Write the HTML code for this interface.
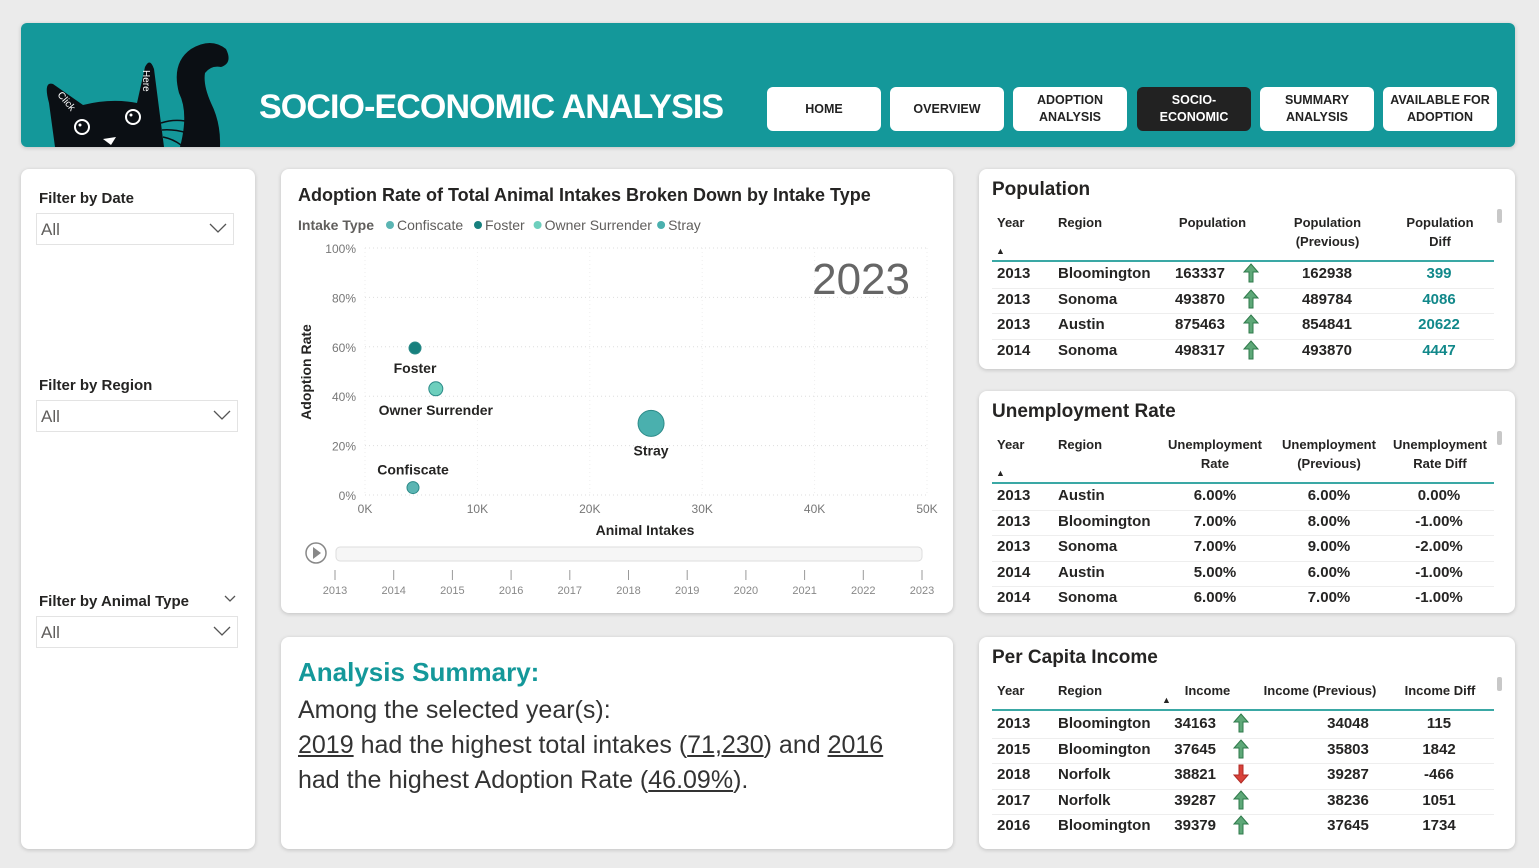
<!DOCTYPE html>
<html><head><meta charset="utf-8">
<style>
*{box-sizing:border-box;margin:0;padding:0}
body{width:1539px;height:868px;background:#ebebeb;font-family:"Liberation Sans",sans-serif;position:relative;overflow:hidden;color:#252423}
.card{position:absolute;background:#fff;border-radius:8px;box-shadow:0 1px 4px rgba(0,0,0,.18)}
.abs{position:absolute;white-space:nowrap}
.nav{position:absolute;top:87px;width:114px;height:44px;background:#fff;border-radius:6px;font-weight:bold;font-size:12.5px;display:flex;align-items:center;justify-content:center;text-align:center;line-height:17px;color:#222}
.ft{font-weight:bold;font-size:15px;color:#252423}
.dd{position:absolute;height:32px;border:1px solid #e3e3e3;font-size:17px;color:#605e5c;padding:6px 4px}
.chev{position:absolute;right:6px;top:9px;width:18px;height:10px}
.th{position:absolute;font-weight:bold;font-size:13px;text-align:center;line-height:19px}
.td{position:absolute;font-weight:bold;font-size:15px;white-space:nowrap}
.rowline{position:absolute;height:1px;background:#eee}
.tl{position:absolute;height:2px;background:#3aa8a5}
.up{position:absolute;width:18px;height:20px}
</style></head><body>
<div class="card" style="left:21px;top:23px;width:1494px;height:124px;background:#14989a;border-radius:6px;overflow:hidden">
<svg class="abs" style="left:0;top:0" width="240" height="124">
<path d="M34 124 L28 80 Q22 58 32 61 L62 82 Q90 75 116 80 L124 44 Q129 34 133 46 L143 124 Z" fill="#0b0f14"/>
<path d="M159 124 Q168 90 158 70 Q150 40 170 26 Q190 14 205 26 Q212 40 200 44 Q190 42 184 50 Q182 62 190 80 Q200 100 199 124 Z" fill="#0b0f14"/>
<circle cx="61" cy="104" r="7" fill="none" stroke="#fff" stroke-width="2"/><circle cx="112" cy="94" r="7" fill="none" stroke="#fff" stroke-width="2"/>
<circle cx="59" cy="102" r="1.5" fill="#fff"/><circle cx="110" cy="92" r="1.5" fill="#fff"/>
<path d="M82 116 l13 -2 l-5 8z" fill="#fff"/>
<path d="M140 100 Q152 96 164 98 M141 107 Q153 106 166 110 M142 114 Q152 116 160 122" stroke="#0b0f14" stroke-width="1.5" fill="none"/>
<text x="36" y="72" fill="#fff" font-size="10" transform="rotate(50 36 72)">Click</text>
<text x="122" y="47" fill="#fff" font-size="10" transform="rotate(90 122 47)">Here</text>
</svg>
<div class="abs" style="left:238px;top:65px;font-size:34px;font-weight:bold;color:#fff;letter-spacing:-0.9px">SOCIO-ECONOMIC ANALYSIS</div>
</div>
<div class="nav" style="left:767px">HOME</div>
<div class="nav" style="left:890px">OVERVIEW</div>
<div class="nav" style="left:1013px">ADOPTION<br>ANALYSIS</div>
<div class="nav" style="left:1137px;background:#222;color:#fff">SOCIO-<br>ECONOMIC</div>
<div class="nav" style="left:1260px">SUMMARY<br>ANALYSIS</div>
<div class="nav" style="left:1383px">AVAILABLE FOR<br>ADOPTION</div>

<div class="card" style="left:21px;top:169px;width:234px;height:680px">
<div class="abs ft" style="left:18px;top:21px">Filter by Date</div>
<div class="dd" style="left:15px;top:44px;width:198px">All<svg class="chev" viewBox="0 0 18 10"><path d="M1 1 L9 9 L17 1" stroke="#555" stroke-width="1.3" fill="none"/></svg></div>
<div class="abs ft" style="left:18px;top:208px">Filter by Region</div>
<div class="dd" style="left:15px;top:231px;width:202px">All<svg class="chev" viewBox="0 0 18 10"><path d="M1 1 L9 9 L17 1" stroke="#555" stroke-width="1.3" fill="none"/></svg></div>
<div class="abs ft" style="left:18px;top:424px">Filter by Animal Type</div>
<svg class="abs" style="left:203px;top:426px" width="12" height="8" viewBox="0 0 12 8"><path d="M1 1 L6 6 L11 1" stroke="#555" stroke-width="1.3" fill="none"/></svg>
<div class="dd" style="left:15px;top:447px;width:202px">All<svg class="chev" viewBox="0 0 18 10"><path d="M1 1 L9 9 L17 1" stroke="#555" stroke-width="1.3" fill="none"/></svg></div>
</div>

<div class="card" style="left:281px;top:169px;width:672px;height:444px"></div>
<svg class="abs" id="chart" style="left:0;top:0" width="1539" height="868"></svg>

<div class="card" style="left:281px;top:637px;width:672px;height:212px">
<div class="abs" style="left:17px;top:20px;font-size:26px;font-weight:bold;color:#14989a">Analysis Summary:</div>
<div class="abs" style="left:17px;top:56px;font-size:25px;line-height:35px;color:#333;white-space:normal;width:640px">Among the selected year(s):<br><u>2019</u> had the highest total intakes (<u>71,230</u>) and <u>2016</u><br>had the highest Adoption Rate (<u>46.09%</u>).</div>
</div>

<div class="card" style="left:979px;top:169px;width:536px;height:200px"></div>
<div class="card" style="left:979px;top:391px;width:536px;height:222px"></div>
<div class="card" style="left:979px;top:637px;width:536px;height:212px"></div>
<div id="tables"></div>

<script>
const categories=["Confiscate","Foster","Owner Surrender","Stray"];
const intakes=[4270,4450,6300,25450];
const rates=[3,59.5,43,29];
const sizes=[6,6,7,13];
const colors=["#5bb5b3","#17807e","#6dcfbd","#4ab0ae"];
const xTicks=[0,10000,20000,30000,40000,50000];
const xTickLabels=["0K","10K","20K","30K","40K","50K"];
const yTicks=[0,20,40,60,80,100];
const years=["2013","2014","2015","2016","2017","2018","2019","2020","2021","2022","2023"];
const NS="http://www.w3.org/2000/svg";
const svg=document.getElementById('chart');
const X=v=>365+v/50000*562, Y=v=>495-v/100*247;
function mk(t,a,txt){const e=document.createElementNS(NS,t);for(const k in a)e.setAttribute(k,a[k]);if(txt!=null)e.textContent=txt;svg.appendChild(e);return e;}
let e;
e=mk('text',{x:298,y:201,'font-size':18,'font-weight':'bold',fill:'#252423'},'Adoption Rate of Total Animal Intakes Broken Down by Intake Type');


e=mk('text',{x:298,y:230,'font-size':14,'font-weight':'bold',fill:'#605e5c'},'Intake Type');


let lx=390;
categories.forEach((c,i)=>{
  const g=mk('circle',{cx:lx,cy:225,r:4,fill:colors[i]});
  
  
  const t=mk('text',{x:lx+7,y:230,'font-size':14,fill:'#605e5c'},c);
  
  
  lx+=c.length*7.1+17;
});
yTicks.forEach(v=>{
  const l=mk('line',{x1:365,x2:927,y1:Y(v),y2:Y(v),stroke:'#ddd','stroke-dasharray':'1 3'});
  
  
  const t=mk('text',{x:356,y:Y(v)+5,'text-anchor':'end','font-size':12,fill:'#777'},v+'%');
  
  
});
xTicks.forEach((v,i)=>{
  const l=mk('line',{x1:X(v),x2:X(v),y1:248,y2:495,stroke:'#eee','stroke-dasharray':'1 3'});
  
  
  const t=mk('text',{x:X(v),y:513,'text-anchor':'middle','font-size':12,fill:'#777'},xTickLabels[i]);
  
  
});
e=mk('text',{x:645,y:535,'text-anchor':'middle','font-size':14,'font-weight':'bold',fill:'#252423'},'Animal Intakes');


e=mk('text',{x:311,y:372,'text-anchor':'middle','font-size':14,'font-weight':'bold',fill:'#252423',transform:'rotate(-90 311 372)'},'Adoption Rate');


e=mk('text',{x:910,y:294,'text-anchor':'end','font-size':44,fill:'#666'},'2023');


categories.forEach((c,i)=>{
  const cx=X(intakes[i]),cy=Y(rates[i]);
  const p=mk('circle',{cx:cx,cy:cy,r:sizes[i],fill:colors[i],stroke:'#2b8a88','stroke-width':1});
  
  
  const above=(c==='Confiscate');
  const t=mk('text',{x:cx,y:above?cy-13:cy+sizes[i]+19,'text-anchor':'middle','font-size':14,'font-weight':'bold',fill:'#252423'},c);
  
  
});
e=mk('circle',{cx:316,cy:553,r:10,fill:'#fff',stroke:'#888','stroke-width':1.5});


mk('path',{d:'M313 547 L321 553 L313 559Z',fill:'#888'});
e=mk('rect',{x:336,y:547,width:586,height:14,rx:4,fill:'#f6f6f6',stroke:'#ddd'});


years.forEach((y,i)=>{
  const x=335+i*(922-335)/(years.length-1);
  mk('line',{x1:x,x2:x,y1:570,y2:580,stroke:'#999'});
  const t=mk('text',{x:x,y:594,'text-anchor':'middle','font-size':11,fill:'#888'},y);
  
  
});

// tables
const T=document.getElementById('tables');
function add(cls,style,txt,name){const d=document.createElement('div');d.className=cls;d.style.cssText=style;d.innerHTML=txt;T.appendChild(d);return d;}
const UP='<svg width="18" height="20" viewBox="0 0 18 20"><path d="M9 1 L16 9 L11 9 L11 19 L7 19 L7 9 L2 9Z" fill="#5ea878" stroke="#2f7a4b" stroke-width="1"/></svg>';
const DOWN='<svg width="18" height="20" viewBox="0 0 18 20"><path d="M9 19 L16 11 L11 11 L11 1 L7 1 L7 11 L2 11Z" fill="#d9423a" stroke="#b02a24" stroke-width="1"/></svg>';
function table(cfg){
  add('abs',`left:992px;top:${cfg.top}px;font-size:19px;font-weight:bold`,cfg.title,cfg.key+'-title');
  cfg.headers.forEach(h=>add('th',`left:${h[0]}px;width:${h[1]}px;top:${cfg.hy}px;text-align:${h[3]||'center'}`,h[2],cfg.key+'-column-header'));
  add('abs',`left:${cfg.sx}px;top:${cfg.sy}px;font-size:9px`,'&#9650;',cfg.key+'-sort-indicator');
  add('abs',`left:1497px;top:${cfg.hy-4}px;width:5px;height:14px;background:#c8c8c8;border-radius:2px`,'',cfg.key+'-scrollbar');
  add('tl',`left:992px;width:502px;top:${cfg.ly}px`,'',cfg.key+'-header-line');
  cfg.rows.forEach((r,i)=>{
    const y=cfg.ry+i*25.6;
    if(i>0)add('rowline',`left:992px;width:502px;top:${y-3}px`,'',cfg.key+'-row-divider');
    cfg.cols.forEach((c,j)=>{
      let st=`top:${y}px;`;
      if(c[1]==='l')st+=`left:${c[0]}px;`;
      else if(c[1]==='r')st+=`left:${c[0]-100}px;width:100px;text-align:right;`;
      else st+=`left:${c[0]-60}px;width:120px;text-align:center;`;
      if(c[2])st+=`color:${c[2]};`;
      add('td',st,r[j],cfg.key+'-cell');
    });
    if(cfg.ax){const dn=r[cfg.ax[1]]==='down';add('up',`left:${cfg.ax[0]}px;top:${y-2}px`,dn?DOWN:UP,cfg.key+'-trend-arrow');}
  });
}
table({key:'population',title:'Population',top:179,hy:213,sx:996,sy:246,ly:260,ry:265,
 headers:[[997,40,'Year','left'],[1170,85,'Population'],[1058,60,'Region','left'],[1280,95,'Population<br>(Previous)'],[1395,90,'Population<br>Diff']],
 cols:[[997,'l'],[1058,'l'],[1225,'r'],[1327,'c'],[1439,'c','#11888a']],ax:[1242,5],
 rows:[["2013","Bloomington","163337","162938","399","up"],["2013","Sonoma","493870","489784","4086","up"],["2013","Austin","875463","854841","20622","up"],["2014","Sonoma","498317","493870","4447","up"]]});
table({key:'unemployment',title:'Unemployment Rate',top:401,hy:435,sx:996,sy:468,ly:482,ry:487,
 headers:[[997,40,'Year','left'],[1058,60,'Region','left'],[1160,110,'Unemployment<br>Rate'],[1274,110,'Unemployment<br>(Previous)'],[1385,110,'Unemployment<br>Rate Diff']],
 cols:[[997,'l'],[1058,'l'],[1215,'c'],[1329,'c'],[1439,'c']],
 rows:[["2013","Austin","6.00%","6.00%","0.00%"],["2013","Bloomington","7.00%","8.00%","-1.00%"],["2013","Sonoma","7.00%","9.00%","-2.00%"],["2014","Austin","5.00%","6.00%","-1.00%"],["2014","Sonoma","6.00%","7.00%","-1.00%"]]});
table({key:'income',title:'Per Capita Income',top:647,hy:681,sx:1162,sy:695,ly:709,ry:715,
 headers:[[997,40,'Year','left'],[1058,60,'Region','left'],[1175,65,'Income'],[1255,130,'Income (Previous)'],[1395,90,'Income Diff']],
 cols:[[997,'l'],[1058,'l'],[1216,'r'],[1348,'c'],[1439,'c']],ax:[1232,5],
 rows:[["2013","Bloomington","34163","34048","115","up"],["2015","Bloomington","37645","35803","1842","up"],["2018","Norfolk","38821","39287","-466","down"],["2017","Norfolk","39287","38236","1051","up"],["2016","Bloomington","39379","37645","1734","up"]]});
</script>
</body></html>
